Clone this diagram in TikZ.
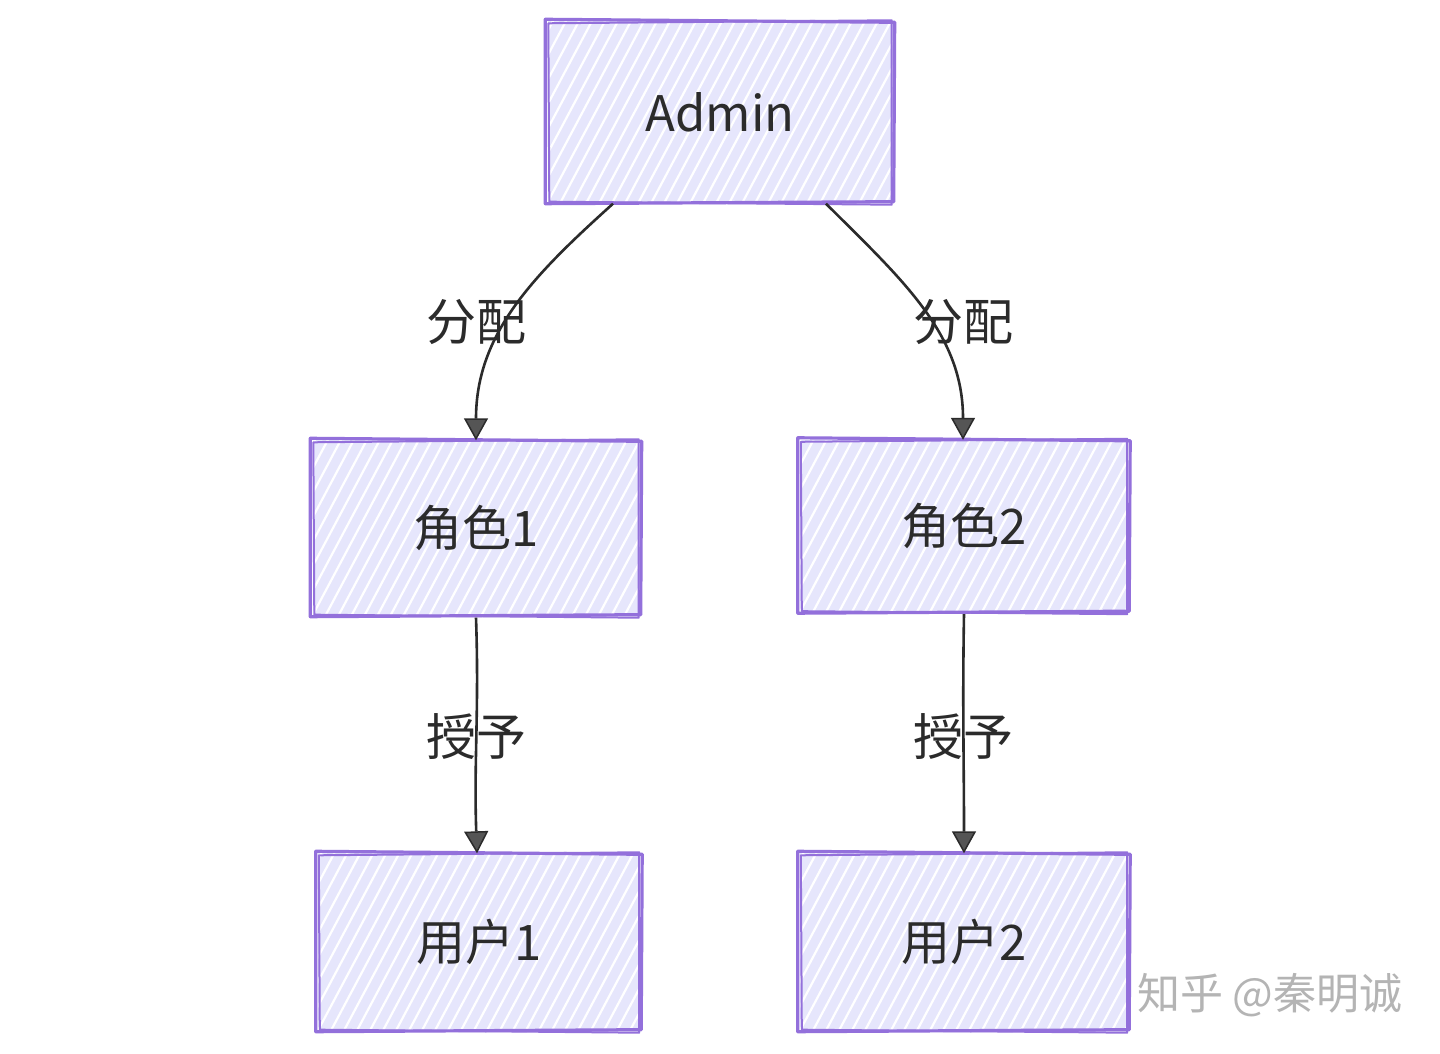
\documentclass[tikz,border=0pt]{standalone}
\usepackage{fontspec}
\newfontfamily\cjk{Noto Sans CJK SC}
\usetikzlibrary{arrows.meta,calc}
\definecolor{boxfill}{HTML}{E6E6FC}
\definecolor{boxline}{HTML}{9370DB}
\definecolor{txt}{HTML}{2B2B2B}
\definecolor{wm}{HTML}{B4B4B4}
\newcommand\sketchborder[1]{%
  \draw[bd] ($(#1.north west)+(-2,2)$) -- ($(#1.north east)+(2,-1)$) -- ($(#1.south east)+(1,1)$) -- ($(#1.south west)+(-2,-1)$) -- cycle;
  \draw[bd, line width=2pt] ($(#1.north west)+(1,-2)$) -- ($(#1.north east)+(-1,1)$) -- ($(#1.south east)+(-1,-2)$) -- ($(#1.south west)+(2,1)$) -- cycle;
}
\begin{document}
\begin{tikzpicture}[x=1pt,y=1pt,
  hbox/.style={fill=boxfill, draw=none, inner sep=0pt, text=txt,
    font=\cjk\fontsize{49}{56}\selectfont,
    path picture={\foreach \k in {-12,...,30}
      \draw[white, line width=2.2pt] ([xshift=\k*13pt]path picture bounding box.south west) -- ++(62:420pt);}},
  bd/.style={draw=boxline, line width=3.2pt, line join=round},
  conn/.style={draw=txt, line width=2.6pt,
    -{Triangle[length=22pt,width=24pt,fill=txt!80,line width=1.5pt]}},
  lbl/.style={text=txt, font=\cjk\fontsize{50}{58}\selectfont, inner sep=0pt},
]
\useasboundingbox (0,0) rectangle (1440,1054);
\fill[white] (0,0) rectangle (1440,1054);

\node[hbox, minimum width=345pt, minimum height=181pt, font=\cjk\fontsize{49}{60}\selectfont] (admin) at (720,942) {Admin};
\node[hbox, minimum width=327pt, minimum height=175pt] (r1) at (476,526) {角色1};
\node[hbox, minimum width=328pt, minimum height=172pt] (r2) at (964,528) {角色2};
\node[hbox, minimum width=322pt, minimum height=177pt] (u1) at (479,112) {用户1};
\node[hbox, minimum width=328pt, minimum height=177pt] (u2) at (964,112) {用户2};

\sketchborder{admin}
\sketchborder{r1}
\sketchborder{r2}
\sketchborder{u1}
\sketchborder{u2}

\coordinate (a1) at ([xshift=-107pt,yshift=-1pt]admin.south);
\coordinate (a2) at ([xshift=106pt,yshift=-1pt]admin.south);

\draw[conn] (a1) to[out=222,in=90] (r1.north);
\draw[conn] (a2) to[out=-45,in=90] ([xshift=-1pt]r2.north);
\draw[conn] ([yshift=-2pt]r1.south) to[out=-88,in=92] ([xshift=-2pt]u1.north);
\draw[conn] ([yshift=-2pt]r2.south) to[out=-91,in=90] (u2.north);

\node[lbl] (l1) at (476,732) {分配};
\node[lbl] (l2) at (963,732) {分配};
\node[lbl] (l3) at (476,317) {授予};
\node[lbl] (l4) at (963,317) {授予};

\node[text=wm, font=\cjk\fontsize{43}{50}\selectfont, inner sep=0pt] (wm) at (1270,59) {知乎 @秦明诚};
\end{tikzpicture}
\end{document}
